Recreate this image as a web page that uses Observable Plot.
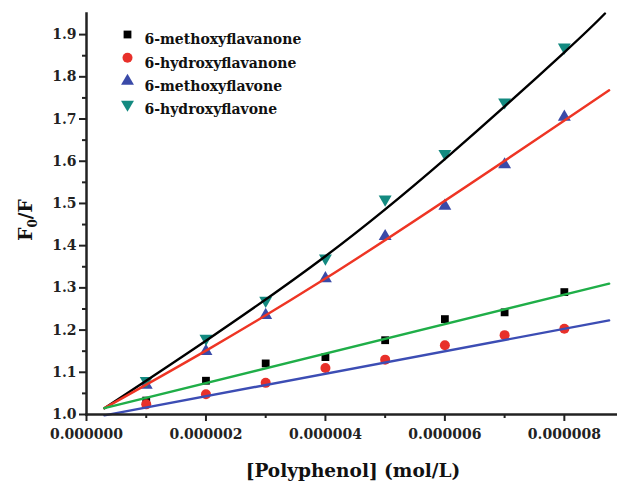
<!DOCTYPE html>
<html><head><meta charset="utf-8">
<script src="https://cdn.jsdelivr.net/npm/d3@7"></script>
<script src="https://cdn.jsdelivr.net/npm/@observablehq/plot@0.6"></script>
<style>body{margin:0;background:#fff}</style>
</head><body><div id="chart"></div>
<script>
const conc = [1e-6, 2e-6, 3e-6, 4e-6, 5e-6, 6e-6, 7e-6, 8e-6];
const seriesNames = ["6-methoxyflavanone", "6-hydroxyflavanone", "6-methoxyflavone", "6-hydroxyflavone"];
const methoxyflavanone = [1.033, 1.080, 1.121, 1.136, 1.176, 1.226, 1.242, 1.290];
const hydroxyflavanone = [1.024, 1.048, 1.075, 1.110, 1.130, 1.164, 1.188, 1.203];
const methoxyflavone  = [1.070, 1.150, 1.235, 1.322, 1.422, 1.494, 1.592, 1.705];
const hydroxyflavone  = [1.080, 1.180, 1.270, 1.370, 1.510, 1.618, 1.740, 1.870];
// fitted curves
const fitX_hf = [0.3e-6, 2e-6, 4e-6, 6e-6, 8e-6, 8.68e-6];
const fitY_hf = [1.015, 1.175, 1.375, 1.605, 1.858, 1.950];
const fitX_mf = [0.3e-6, 4e-6, 8.75e-6];
const fitY_mf = [1.015, 1.322, 1.768];
const fitX_mfn = [0.3e-6, 8.75e-6];
const fitY_mfn = [1.015, 1.310];
const fitX_hfn = [0.3e-6, 8.75e-6];
const fitY_hfn = [0.998, 1.223];
const xTicks = [0, 2e-6, 4e-6, 6e-6, 8e-6];
const xMinor = [1e-6, 3e-6, 5e-6, 7e-6];
const yTicks = [1.0, 1.1, 1.2, 1.3, 1.4, 1.5, 1.6, 1.7, 1.8, 1.9];
const yMinor = [1.05, 1.15, 1.25, 1.35, 1.45, 1.55, 1.65, 1.75, 1.85];

const symbolColors = ["#000000", "#e8302a", "#3a4aa8", "#138a80"];
const symbols = ["square", "circle", "triangle", "triangle"];
const rotations = [0, 0, 0, 180];
const sizes = [4.4, 5, 4.8, 4.8];
const allVals = [methoxyflavanone, hydroxyflavanone, methoxyflavone, hydroxyflavone];

const pts = [];
allVals.forEach((arr, s) => arr.forEach((v, i) => pts.push({x: conc[i], y: v, s})));
const fits = [
  {xs: fitX_hf, ys: fitY_hf, color: "#000000"},
  {xs: fitX_mf, ys: fitY_mf, color: "#ee3524"},
  {xs: fitX_mfn, ys: fitY_mfn, color: "#1fae48"},
  {xs: fitX_hfn, ys: fitY_hfn, color: "#3c4db4"}
];
const fitMarks = fits.map(f => Plot.line(f.xs.map((x, i) => ({x, y: f.ys[i]})), {x: "x", y: "y", stroke: f.color, strokeWidth: 2.4, curve: "natural"}));
const legend = seriesNames.map((n, i) => ({n, i}));
const font = "DejaVu Serif";

const plot = Plot.plot({
  width: 617, height: 488,
  marginLeft: 86, marginTop: 13, marginBottom: 74, marginRight: 0,
  style: {fontFamily: font, fontWeight: "bold", fontSize: "14px", color: "#222"},
  x: {domain: [0, 8.89e-6]},
  y: {domain: [1.0, 1.95]},
  marks: [
    ...[0, 1, 2, 3].map(s => Plot.dot(pts.filter(p => p.s === s), {x: "x", y: "y", symbol: () => symbols[s], r: sizes[s], fill: symbolColors[s], rotate: rotations[s], stroke: "none"})),
    ...fitMarks,
    Plot.axisX({ticks: xTicks, tickFormat: d => d.toFixed(6), tickSize: 7, tickPadding: 8, strokeWidth: 2, label: null}),
    Plot.axisX({ticks: xMinor, tickSize: 4, strokeWidth: 2, text: null, label: null}),
    Plot.axisY({ticks: yTicks, tickFormat: d => d.toFixed(1), tickSize: 7, tickPadding: 3, strokeWidth: 2, label: null}),
    Plot.axisY({ticks: yMinor, tickSize: 4, strokeWidth: 2, text: null, label: null}),
    Plot.frame({anchor: "left", strokeWidth: 2.5, stroke: "#222"}),
    Plot.frame({anchor: "bottom", strokeWidth: 2.5, stroke: "#222"}),
    ...legend.map(l => Plot.dot([l], {frameAnchor: "top-left", dx: 41, dy: 21 + l.i * 23.3, symbol: () => symbols[l.i], r: sizes[l.i], fill: symbolColors[l.i], rotate: rotations[l.i], stroke: "none"})),
    ...legend.map(l => Plot.text([l], {frameAnchor: "top-left", dx: 58, dy: 21 + l.i * 23.3, text: "n", textAnchor: "start", fill: "#111"}))
  ]
});
const svg = d3.select(plot);
svg.selectAll("text").attr("font-size", 14).attr("font-weight", "bold").attr("font-family", font);
svg.append("text").attr("transform", "translate(32,220) rotate(-90)")
  .attr("text-anchor", "middle").attr("font-size", 18.5).attr("font-weight", "bold").attr("fill", "#111").attr("font-family", font)
  .call(t => { t.append("tspan").text("F"); t.append("tspan").attr("font-size", 12).attr("dy", 5).text("0"); t.append("tspan").attr("dy", -5).text("/F"); });
svg.append("text").attr("x", 353).attr("y", 477).attr("text-anchor", "middle").attr("font-size", 18.5).attr("font-weight", "bold").attr("fill", "#111").attr("font-family", font)
  .text("[Polyphenol] (mol/L)");
document.getElementById("chart").append(plot);
</script>
</body></html>
